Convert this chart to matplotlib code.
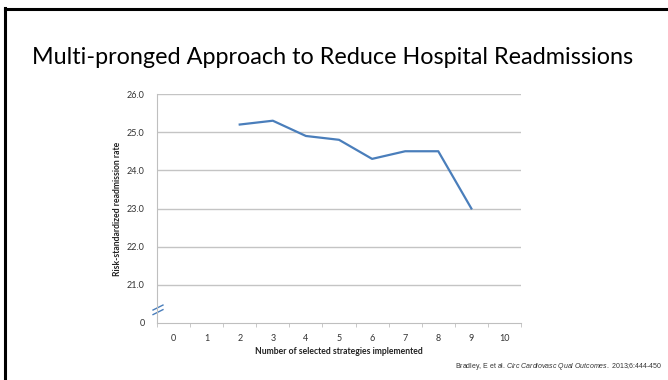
import numpy as np
import matplotlib
matplotlib.use("Agg")
import matplotlib.pyplot as plt
from matplotlib.lines import Line2D

plt.rcParams["font.family"] = "Lato"
plt.rcParams["mathtext.fontset"] = "custom"
plt.rcParams["mathtext.rm"] = "Liberation Sans"
plt.rcParams["mathtext.it"] = "Liberation Sans:italic"

# data: readmission rate by number of strategies implemented
strategies = [0, 1, 2, 3, 4, 5, 6, 7, 8, 9, 10]
rate_x = [2, 3, 4, 5, 6, 7, 8, 9]
rate = [25.2, 25.3, 24.9, 24.8, 24.3, 24.5, 24.5, 23.0]
ytick_vals = [20, 21, 22, 23, 24, 25, 26]
ytick_labels = ["0", "21.0", "22.0", "23.0", "24.0", "25.0", "26.0"]

title = "Multi-pronged Approach to Reduce Hospital Readmissions"
xlabel = "Number of selected strategies implemented"
ylabel = "Risk-standardized readmission rate"
citation = r"Bradley, E et al. $\it{Circ\ Cardiovasc\ Qual\ Outcomes.}$ 2013;6:444-450"

W, H = 668, 380
fig = plt.figure(figsize=(W / 100, H / 100), dpi=100)
fig.patch.set_facecolor("white")

# slide border (top and left edges)
fig.add_artist(Line2D([5 / W, 5 / W], [0, 1 - 8 / H], color="black", lw=2.2))
fig.add_artist(Line2D([5 / W, 1], [1 - 8.5 / H, 1 - 8.5 / H], color="black", lw=2.2))

fig.text(333 / W, 1 - 57 / H, title, ha="center", va="center",
         fontsize=16.8, color="black")

ax = fig.add_axes([157 / W, 1 - 323 / H, (521 - 157) / W, (323 - 94) / H])
ax.plot(rate_x, rate, color="#4a7ebb", lw=1.6)

ax.set_xlim(-0.5, 10.5)
ax.set_ylim(20, 26)
ax.set_xticks(strategies)
ax.set_xticklabels([str(s) for s in strategies])
ax.set_xticks(np.arange(-0.5, 10.6, 1), minor=True)
ax.set_yticks(ytick_vals)
ax.set_yticklabels(ytick_labels)
ax.tick_params(axis="x", which="major", length=0, pad=8, labelsize=6.5, colors="#333333")
ax.tick_params(axis="x", which="minor", length=3, color="#bfbfbf")
ax.tick_params(axis="y", length=0, pad=9, labelsize=6.5, colors="#333333")

for v in ytick_vals[1:]:
    ax.axhline(v, color="#c4c4c4", lw=1.0, zorder=0)

for side in ["top", "right"]:
    ax.spines[side].set_visible(False)
ax.spines["left"].set_color("#bfbfbf")
ax.spines["bottom"].set_color("#bfbfbf")

# axis break marks
ax.plot([-0.62, -0.32], [20.34, 20.47], color="#4a7ebb", lw=1.0, clip_on=False)
ax.plot([-0.62, -0.32], [20.22, 20.35], color="#4a7ebb", lw=1.0, clip_on=False)

ax.set_xlabel(xlabel, fontsize=6.2, fontweight="bold", labelpad=3, color="#222222")
ax.set_ylabel(ylabel, fontsize=6.2, fontweight="bold", labelpad=3, color="#222222")

fig.text(662 / W, 1 - 367 / H, citation, ha="right", va="center",
         fontsize=5, family="Liberation Sans", color="#333333")

fig.savefig("out.png", dpi=100)
